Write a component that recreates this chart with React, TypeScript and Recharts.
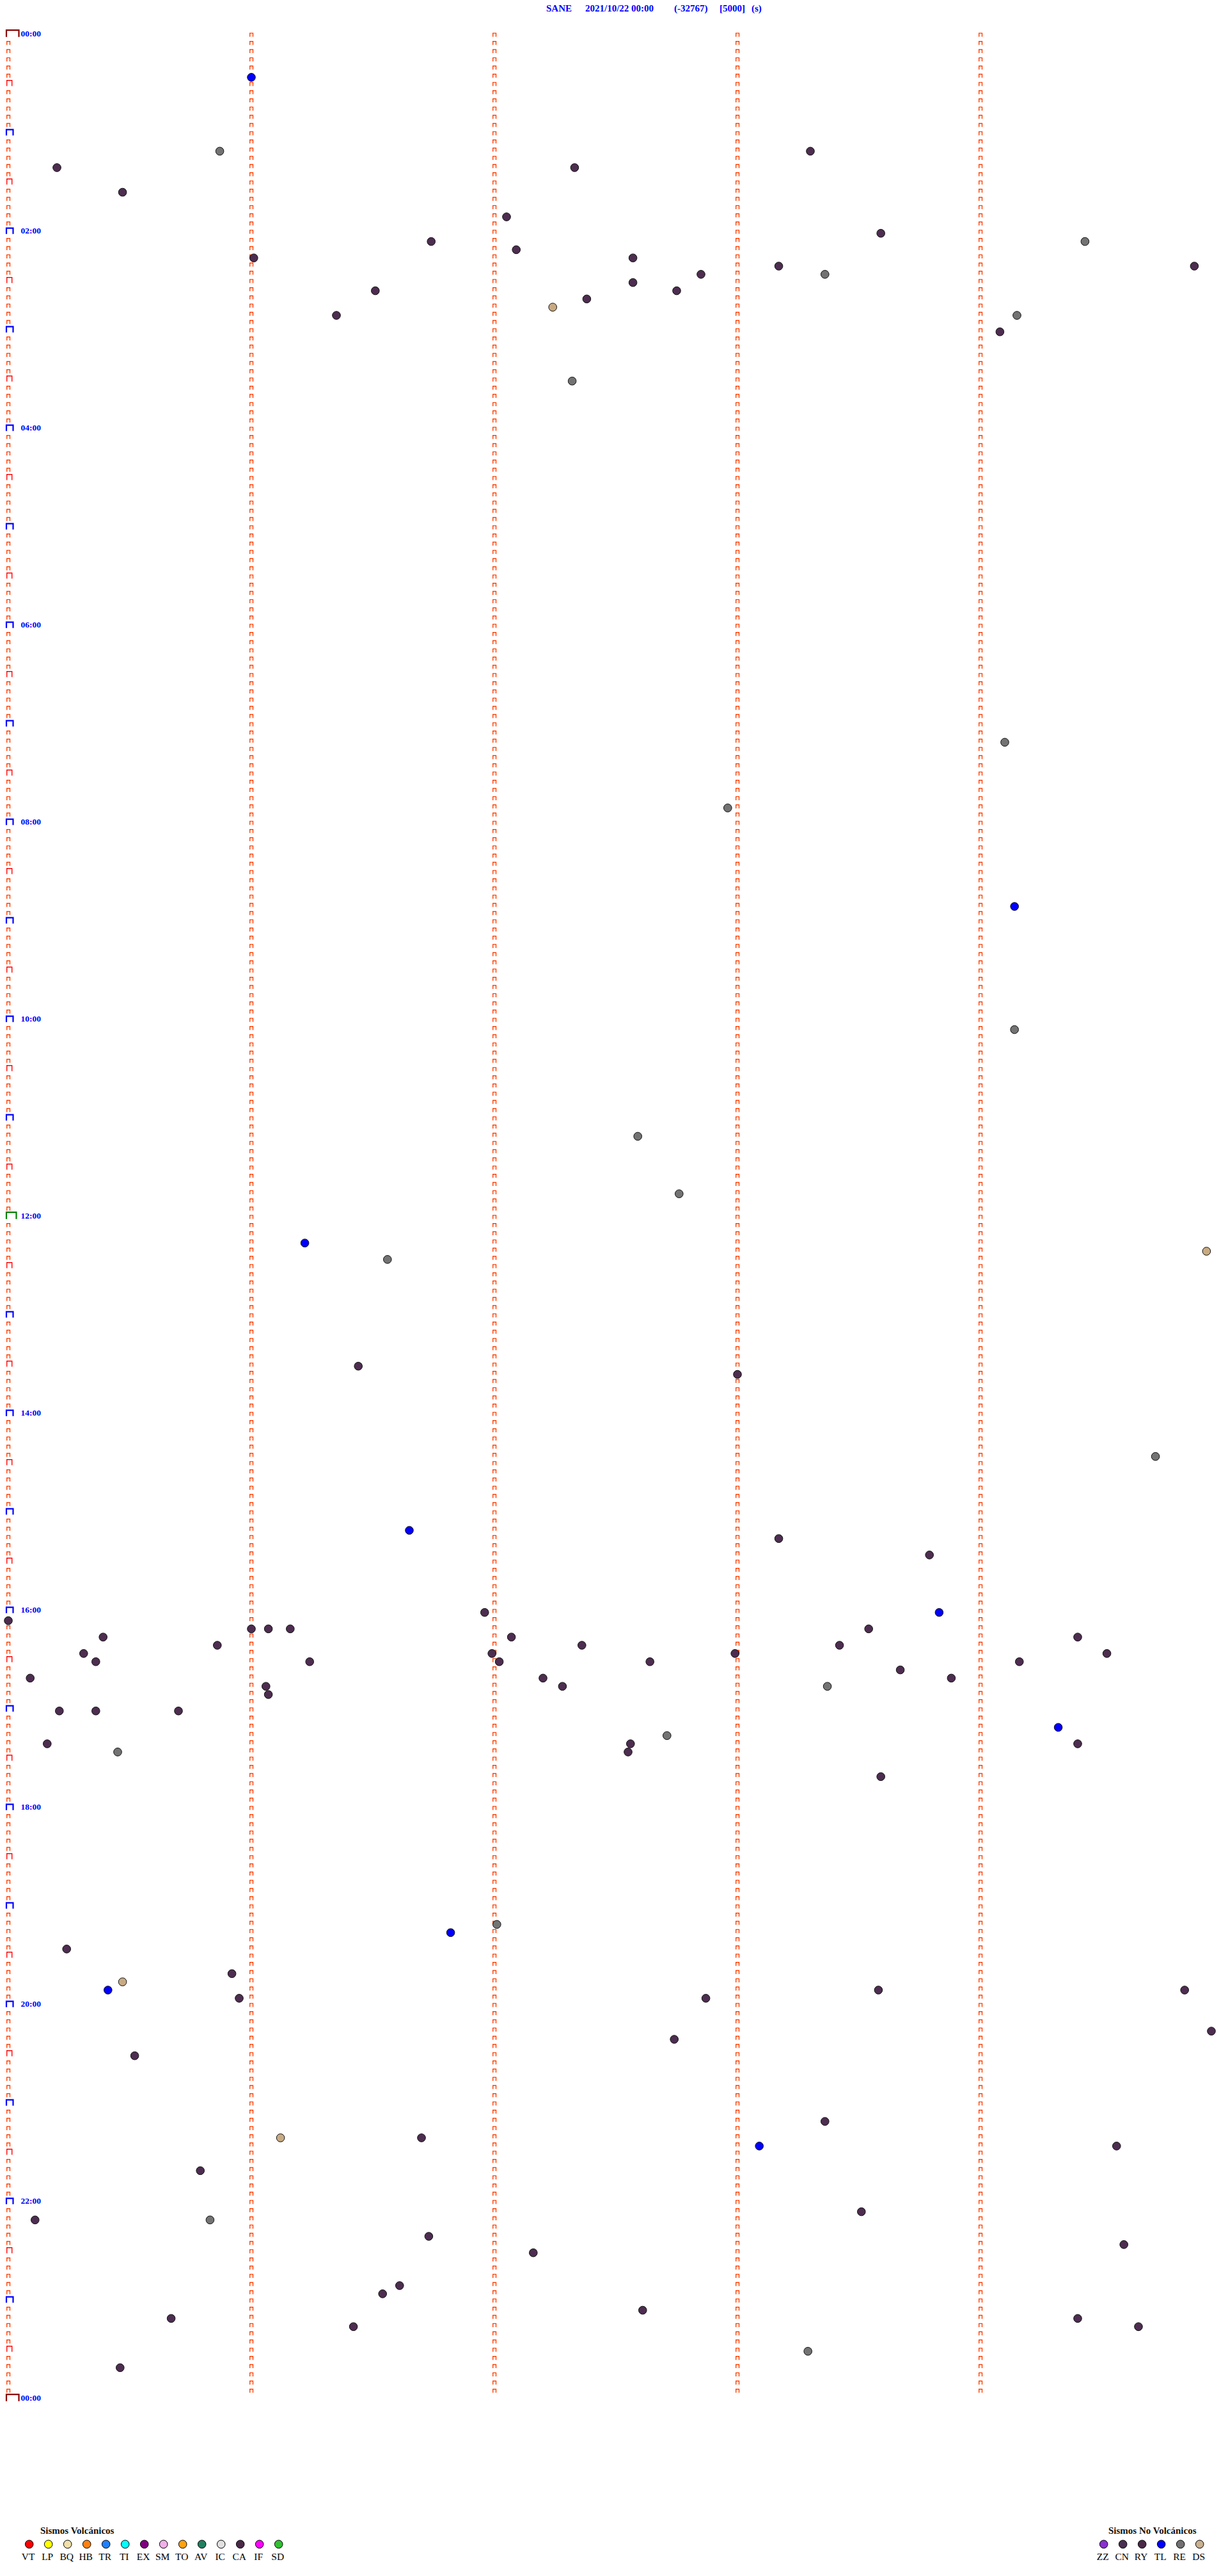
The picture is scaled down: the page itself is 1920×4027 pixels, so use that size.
import React from 'react';
import { Scatter, ScatterChart, XAxis, YAxis } from 'recharts';

const WIDTH = 1920;
const HEIGHT = 4027;
const FONT = "'Liberation Serif', 'Times New Roman', serif";

// helicorder: one row per 5 minutes, x = minute inside the row
const gridColumns = [0, 1, 2, 3, 4];
const rowMinutes = Array.from({ length: 289 }, (_, i) => i * 5);
const hourTicks = [0, 2, 4, 6, 8, 10, 12, 14, 16, 18, 20, 22, 24];
const hourLabels = ['00:00', '02:00', '04:00', '06:00', '08:00', '10:00', '12:00', '14:00', '16:00', '18:00', '20:00', '22:00', '00:00'];

// [row start, minute inside row]
const caEvents: [string, number][] = [
	['01:20', 0.2], ['01:35', 0.47], ['01:20', 2.33], ['01:10', 3.3], ['01:50', 2.05],
	['02:05', 1.74], ['02:15', 1.01], ['02:10', 2.09], ['02:15', 2.57], ['02:00', 3.59],
	['02:20', 4.88], ['02:20', 3.17], ['02:25', 2.85], ['02:30', 2.57], ['02:35', 2.75],
	['02:40', 2.38], ['02:35', 1.51], ['02:50', 1.35], ['03:00', 4.08],
	['13:30', 1.44], ['13:35', 3.0], ['15:15', 3.17], ['15:25', 3.79],
	['16:05', 0.0], ['16:00', 1.96], ['16:10', 1.0], ['16:10', 1.07], ['16:10', 1.16],
	['16:10', 3.54], ['16:15', 4.4], ['16:15', 0.39], ['16:20', 0.86], ['16:15', 2.07],
	['16:20', 2.36], ['16:20', 3.42], ['16:25', 0.31], ['16:30', 0.36], ['16:25', 1.99],
	['16:30', 2.02], ['16:30', 1.24], ['16:30', 2.64], ['16:25', 2.99], ['16:30', 4.16],
	['16:25', 4.52], ['16:35', 3.67], ['16:40', 0.09], ['16:40', 2.2], ['16:40', 3.88],
	['16:45', 1.06], ['16:50', 1.07], ['16:45', 2.28], ['17:00', 0.21], ['17:00', 0.36],
	['17:00', 0.7], ['17:20', 2.56], ['17:25', 2.55], ['17:20', 0.16], ['17:20', 4.4],
	['17:40', 3.59], ['19:25', 0.24], ['19:40', 0.92], ['19:55', 0.95], ['19:50', 3.58],
	['19:55', 2.87], ['19:50', 4.84], ['20:15', 4.95], ['20:20', 2.74], ['20:30', 0.52],
	['21:10', 3.36], ['21:25', 4.56], ['21:20', 1.7], ['21:40', 0.79], ['22:05', 3.51],
	['22:10', 0.11], ['22:20', 1.73], ['22:25', 4.59], ['22:30', 2.16], ['22:50', 1.61],
	['22:55', 1.54], ['23:05', 2.61], ['23:10', 0.67], ['23:15', 1.42], ['23:10', 4.4],
	['23:15', 4.65], ['23:40', 0.46],
];
const reEvents: [string, number][] = [
	['01:10', 0.87], ['02:05', 4.43], ['02:25', 3.36], ['02:50', 4.15], ['03:30', 2.32],
	['07:10', 4.1], ['07:50', 2.96], ['10:05', 4.14], ['11:10', 2.59], ['11:45', 2.76],
	['12:25', 1.56], ['14:25', 4.72], ['16:45', 3.37], ['17:15', 2.71], ['17:25', 0.45],
	['19:10', 2.01], ['22:10', 0.83], ['23:30', 3.29],
];
const tlEvents: [string, number][] = [
	['00:25', 1.0], ['08:50', 4.14], ['12:15', 1.22], ['15:10', 1.65], ['16:00', 3.83],
	['17:10', 4.32], ['19:15', 1.82], ['19:50', 0.41], ['21:25', 3.09],
];
const dsEvents: [string, number][] = [
	['02:45', 2.24], ['12:20', 4.93], ['19:45', 0.47], ['21:20', 1.12],
];

const volcanicTypes = ['VT', 'LP', 'BQ', 'HB', 'TR', 'TI', 'EX', 'SM', 'TO', 'AV', 'IC', 'CA', 'IF', 'SD'];
const volcanicColors = ['#ff0000', '#ffff00', '#f0e0a8', '#ff8010', '#2080ff', '#00ffff', '#800080', '#f0b0e8', '#ffa010', '#208060', '#e0e0e0', '#4a2848', '#ff00ff', '#30c030'];
const otherTypes = ['ZZ', 'CN', 'RY', 'TL', 'RE', 'DS'];
const otherColors = ['#8a30d0', '#4a3050', '#4a2848', '#0000ff', '#707070', '#c8b090'];

const toHours = (t: string) => {
	const [h, m] = t.split(':').map(Number);
	return h + m / 60;
};
const toPoints = (list: [string, number][]) => list.map(([t, m]) => ({ x: m, y: toHours(t) }));

const gridPoints = gridColumns.flatMap((col) =>
	rowMinutes
		.filter((min) => col === 0 || min < 1440)
		.map((min) => ({ x: col, y: min / 60, col, min })),
);
const labelPoints = hourTicks.map((h, i) => ({ x: 0, y: h, label: hourLabels[i] }));

const gate = (x: number, top: number, w: number, h: number, color: string, sw: number) => (
	<path
		d={`M${x},${top + h} V${top} H${x + w} V${top + h}`}
		fill="none"
		stroke={color}
		strokeWidth={sw}
		strokeLinecap="square"
	/>
);

const GridMark = (props: any) => {
	const { cx, cy, payload } = props;
	if (cx == null || cy == null) return null;
	const { col, min } = payload;
	if (col === 0) {
		if (min === 0 || min === 1440) return gate(cx - 3, cy - 9.5, 19.5, 9.5, '#8b0000', 2.2);
		if (min === 720) return gate(cx - 3, cy - 9.5, 15.5, 9.5, '#008000', 2.2);
		if (min % 60 === 0) return gate(cx - 3, cy - 8, 10.5, 8, '#0000ff', 2.2);
		if (min % 30 === 0) return gate(cx - 2.3, cy - 8, 8, 8, '#ff0000', 1.4);
	}
	return gate(cx - 2.3, cy - 4.8, 4.8, 4.8, '#ff4000', 1.4);
};

const EventDot = (props: any) => {
	const { cx, cy, fill } = props;
	if (cx == null || cy == null) return null;
	return <circle cx={cx} cy={cy} r={6.3} fill={fill} stroke="#111" strokeWidth={1} />;
};

const HourLabel = (props: any) => {
	const { cx, cy, payload } = props;
	if (cx == null || cy == null) return null;
	return (
		<text x={cx + 19.5} y={cy + 0.5} fill="#0000ff" fontFamily={FONT} fontWeight="bold" fontSize={13.5}>
			{payload.label}
		</text>
	);
};

const LegendRow = ({ title, titleX, types, colors, x0 }: { title: string; titleX: number; types: string[]; colors: string[]; x0: number }) => (
	<g fontFamily={FONT}>
		<text x={titleX} y={3961} fontSize={15} fontWeight="bold" fill="#111">
			{title}
		</text>
		{types.map((t, i) => (
			<g key={t}>
				<circle cx={x0 + i * 30} cy={3977.3} r={6.3} fill={colors[i]} stroke="#000" strokeWidth={1} />
				<text x={x0 + i * 30 - 1.5} y={4001.5} fontSize={15.5} textAnchor="middle" fill="#000">
					{t}
				</text>
			</g>
		))}
	</g>
);

export default function App() {
	return (
		<div style={{ position: 'absolute', left: 0, top: 0, width: WIDTH, height: HEIGHT, background: '#fff' }}>
			<ScatterChart width={WIDTH} height={HEIGHT} margin={{ top: 56.7, bottom: 274.3, left: 13, right: 7 }}>
				<XAxis type="number" dataKey="x" domain={[0, 5]} hide />
				<YAxis type="number" dataKey="y" domain={[0, 24]} reversed hide />
				<Scatter name="grid" data={gridPoints} shape={<GridMark />} isAnimationActive={false} />
				<Scatter name="hours" data={labelPoints} shape={<HourLabel />} isAnimationActive={false} />
				<Scatter name="CA" data={toPoints(caEvents)} fill="#4d2d50" shape={<EventDot />} isAnimationActive={false} />
				<Scatter name="RE" data={toPoints(reEvents)} fill="#737373" shape={<EventDot />} isAnimationActive={false} />
				<Scatter name="TL" data={toPoints(tlEvents)} fill="#0000ff" shape={<EventDot />} isAnimationActive={false} />
				<Scatter name="DS" data={toPoints(dsEvents)} fill="#c8aa82" shape={<EventDot />} isAnimationActive={false} />
			</ScatterChart>
			<svg width={WIDTH} height={HEIGHT} style={{ position: 'absolute', left: 0, top: 0, pointerEvents: 'none' }}>
				<g fontFamily={FONT} fontWeight="bold" fontSize={15} fill="#0000ff">
					<text x={854} y={17.5}>SANE</text>
					<text x={915} y={17.5}>2021/10/22 00:00</text>
					<text x={1054} y={17.5}>(-32767)</text>
					<text x={1125} y={17.5}>[5000]</text>
					<text x={1175} y={17.5}>(s)</text>
				</g>
				<LegendRow title="Sismos Volcánicos" titleX={63} types={volcanicTypes} colors={volcanicColors} x0={45.7} />
				<LegendRow title="Sismos No Volcánicos" titleX={1733} types={otherTypes} colors={otherColors} x0={1725.7} />
			</svg>
		</div>
	);
}
